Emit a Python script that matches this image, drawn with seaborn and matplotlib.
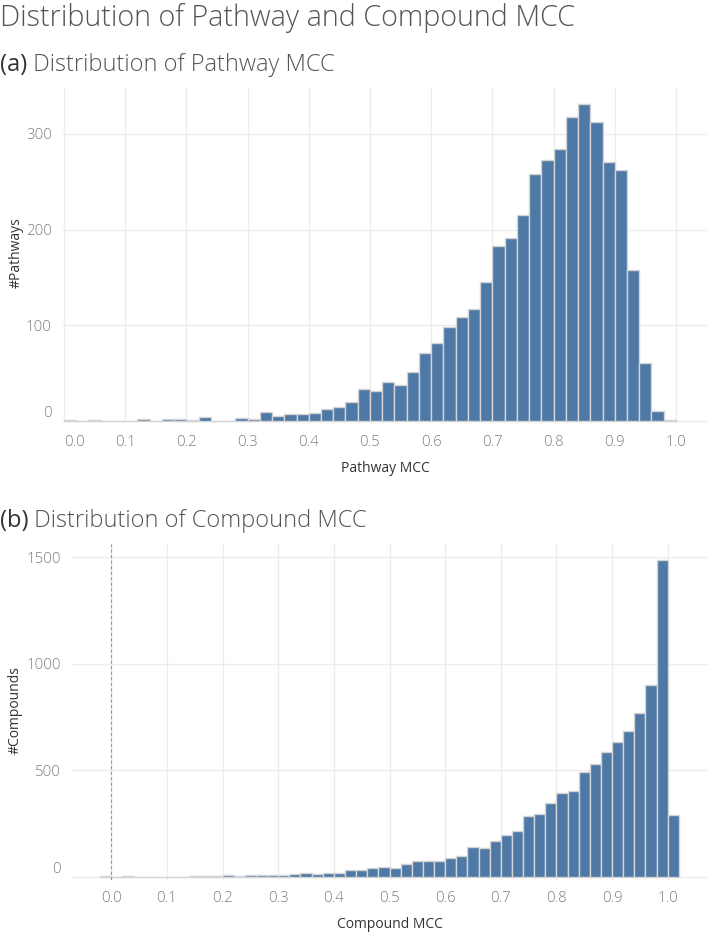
import numpy as np
import pandas as pd
import matplotlib
matplotlib.use("Agg")
import matplotlib.pyplot as plt
import seaborn as sns

# ---------------- data ----------------
bin_width = 0.02
pathway_first_bin = 0.0
pathway_counts = [1, 0, 1, 0, 0, 0, 2, 0, 2, 2,
                  1, 4, 0, 0, 3, 2, 9, 5, 7, 7,
                  8, 13, 15, 20, 33, 31, 41, 38, 51, 71,
                  82, 98, 109, 117, 145, 183, 191, 215, 258, 273,
                  284, 318, 331, 312, 271, 262, 158, 61, 10, 1]
compound_first_bin = -0.02
compound_counts = [2, 0, 2, 0, 0, 0, 0, 0, 2, 2,
                   2, 9, 2, 8, 8, 8, 8, 12, 19, 12,
                   17, 17, 34, 34, 41, 47, 39, 61, 72, 72,
                   72, 89, 98, 142, 136, 169, 195, 217, 284, 297,
                   345, 394, 403, 494, 531, 584, 631, 684, 770, 898,
                   1486, 291]
x_ticks = [0.0, 0.1, 0.2, 0.3, 0.4, 0.5, 0.6, 0.7, 0.8, 0.9, 1.0]
pathway_y_ticks = [0, 100, 200, 300]
compound_y_ticks = [0, 500, 1000, 1500]

title = "Distribution of Pathway and Compound MCC"
sub_a = ("(a)", " Distribution of Pathway MCC")
sub_b = ("(b)", " Distribution of Compound MCC")

# ---------------- style ----------------
sns.set_theme(style="white")
plt.rcParams["font.family"] = ["Open Sans", "DejaVu Sans"]

BAR = "#4e79a7"
EDGE = "#d4d4d4"
GRID = "#ececec"
TICK = "#7f7f7f"
LAB = "#333333"

fig = plt.figure(figsize=(7.09, 9.34), dpi=100)
W, H = 709, 934

def ax_rect(l, t, r, b):
    return [l / W, 1 - b / H, (r - l) / W, (b - t) / H]

ax1 = fig.add_axes(ax_rect(63, 88, 707, 423.4))
ax2 = fig.add_axes(ax_rect(72, 544, 707, 880))

def make_df(first, counts):
    n = len(counts)
    mids = np.round(first + bin_width * (np.arange(n) + 0.5), 4)
    return pd.DataFrame({"mcc": mids, "count": counts}), (first, first + n * bin_width)

df1, r1 = make_df(pathway_first_bin, pathway_counts)
df2, r2 = make_df(compound_first_bin, compound_counts)

for ax, df, rng in ((ax1, df1, r1), (ax2, df2, r2)):
    sns.histplot(data=df, x="mcc", weights="count", binwidth=bin_width,
                 binrange=rng, ax=ax, color=BAR, alpha=1, edgecolor=EDGE,
                 linewidth=1.0, zorder=3)

ax1.set_xlim(-0.0016, 1.0507)
ax1.set_ylim(-2.5, 348)
ax2.set_xlim(-0.0707, 1.0707)
ax2.set_ylim(-15, 1562)

ax2.axvline(0.0, color="#9a9a9a", lw=0.8, ls=(0, (3, 2)), zorder=4)

for ax, yt in ((ax1, pathway_y_ticks), (ax2, compound_y_ticks)):
    ax.set_xticks(x_ticks)
    ax.set_xticklabels([f"{v:.1f}" for v in x_ticks])
    ax.set_yticks(yt)
    ax.set_yticklabels([str(v) for v in yt])
    ax.grid(True, color=GRID, lw=1.0, zorder=0)
    ax.set_axisbelow(True)
    for s in ax.spines.values():
        s.set_visible(False)
    ax.tick_params(axis="x", length=0, pad=8, labelsize=10.8, labelcolor=TICK)
    ax.tick_params(axis="y", length=6, width=1, color=GRID, pad=2,
                   labelsize=10.8, labelcolor=TICK)
    ax.set_xlabel("")
    ax.set_ylabel("")
    for lab in ax.get_xticklabels() + ax.get_yticklabels():
        lab.set_fontweight("light")
    for lab in ax.get_yticklabels():
        if lab.get_text() == "0":
            lab.set_va("bottom")

ax1.get_xticklabels()[0].set_ha("left")

# ---------------- texts ----------------
fig.text(0.0, 1 - 26 / H, title, fontsize=20.7, color="#555555",
         fontweight="light", va="baseline", ha="left")

def subtitle(y, parts):
    t = fig.text(0.0, 1 - y / H, parts[0], fontsize=17, color="#333333",
                 va="baseline", ha="left")
    fig.canvas.draw()
    bb = t.get_window_extent()
    fig.text(bb.x1 / W, 1 - y / H, parts[1], fontsize=17, color="#555555",
             fontweight="light", va="baseline", ha="left")

subtitle(71, sub_a)
subtitle(527, sub_b)

fig.text(385 / W, 1 - 469 / H, "Pathway MCC", fontsize=10, color=LAB,
         ha="center", va="center")
fig.text(389.5 / W, 1 - 925 / H, "Compound MCC", fontsize=10, color=LAB,
         ha="center", va="center")
fig.text(16 / W, 1 - 253 / H, "#Pathways", fontsize=10, color=LAB,
         rotation=90, ha="center", va="center")
fig.text(15 / W, 1 - 710 / H, "#Compounds", fontsize=10, color=LAB,
         rotation=90, ha="center", va="center")

fig.savefig("out.png", dpi=100)
